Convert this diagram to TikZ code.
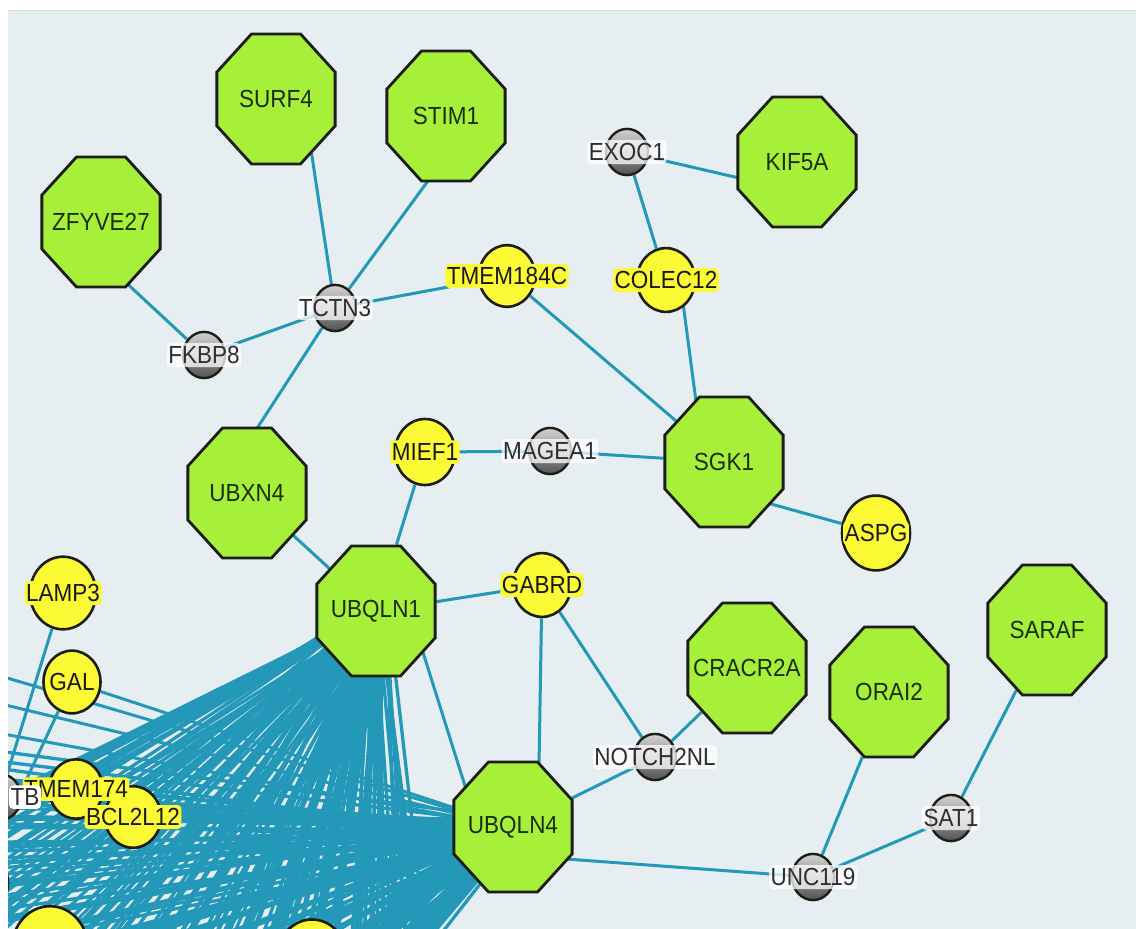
\documentclass[tikz,border=0pt]{standalone}
\usepackage{fontspec}
\setmainfont{Liberation Sans}
\usetikzlibrary{shapes.geometric,calc}
\pgfdeclarelayer{bg}
\pgfdeclarelayer{edges}
\pgfsetlayers{bg,edges,main}
\definecolor{canvas}{RGB}{231,238,241}
\definecolor{linkcol}{RGB}{36,152,184}
\definecolor{limefill}{RGB}{166,240,58}
\definecolor{limetext}{RGB}{28,46,10}
\definecolor{yelfill}{RGB}{252,250,52}
\definecolor{rimcol}{RGB}{28,30,22}
\tikzset{
  link/.style     = {draw=linkcol, line width=3pt},
  hub/.style      = {regular polygon, regular polygon sides=8, minimum size=128pt, inner sep=0pt,
                     fill=limefill, draw=rimcol, line width=2.8pt},
  gene/.style     = {circle, minimum size=#1, inner sep=0pt, fill=yelfill, draw=rimcol, line width=2.6pt},
  gene/.default   = 58pt,
  relay/.style    = {circle, minimum size=42pt, inner sep=0pt, top color=gray!35,
                     bottom color=gray!65!black, draw=rimcol, line width=2.4pt},
  nametag/.style  = {font=\fontsize{22.5}{26}\selectfont, inner xsep=1.5pt, inner ysep=3pt},
  hubtag/.style   = {nametag, text=limetext},
  genetag/.style  = {nametag, fill=yelfill, rounded corners=4pt, text=black!90},
  relaytag/.style = {nametag, fill=white, fill opacity=0.75, text opacity=1, rounded corners=4pt, text=black!82}
}

\begin{document}
\begin{tikzpicture}[x=1pt, y=-0.90909pt, yscale=1.1, every node/.append style={transform shape}]
  \useasboundingbox (0,0) rectangle (1136,929);
  \begin{pgfonlayer}{bg}
    \fill[white] (0,0) rectangle (1136,929);
    \fill[canvas] (8,10) rectangle (1136,929);
    \draw[canvas!94!black, line width=0.8pt] (8,10.5) -- (1136,10.5);
  \end{pgfonlayer}

  \begin{scope}
    \clip (8,10) rectangle (1136,929);
    %  --  green octagons
    \foreach \n/\x/\y in {ZFYVE27/101/222, SURF4/276/99, STIM1/446/116, KIF5A/797/162,
        UBXN4/247/493, UBQLN1/376/611, UBQLN4/513/827, SGK1/724/462,
        CRACR2A/747/668, ORAI2/889/692, SARAF/1047/630}{
      \node[hub] (\n) at (\x,\y) {};
    }
    %  --  yellow circles (Ya, Yb, Yc only peek in at the border)
    \foreach \n/\x/\y/\d in {TMEM184C/507/276/56pt, COLEC12/666/280/58pt, MIEF1/425/452/60pt,
        GABRD/542/585/58pt, ASPG/876/533/68pt, LAMP3/63/593/66pt, GAL/72/682/57pt,
        BCL2L12/133/817/56pt, TMEM174/76/789/54pt, Ya/50/948/76pt, Yb/312/958/70pt, Yc/-22/883/60pt}{
      \node[gene=\d] (\n) at (\x,\y) {};
    }
    %  --  grey connector genes
    \foreach \n/\x/\y in {EXOC1/627/152, TCTN3/335/308, FKBP8/204/355, MAGEA1/550/451,
        NOTCH2NL/655/757, UNC119/813/877, SAT1/951/818, TB/0/797}{
      \node[relay] (\n) at (\x,\y) {};
    }

    %  --  labels go on top of every shape
    \foreach \n in {ZFYVE27, SURF4, STIM1, KIF5A, UBXN4, UBQLN1, UBQLN4, SGK1, CRACR2A, ORAI2, SARAF}
      \node[hubtag] (t\n) at (\n) {\n};
    \foreach \n in {TMEM184C, COLEC12, MIEF1, GABRD, ASPG, LAMP3, GAL, BCL2L12, TMEM174}
      \node[genetag] (t\n) at (\n) {\n};
    \foreach \n in {EXOC1, TCTN3, FKBP8, MAGEA1, NOTCH2NL, UNC119, SAT1}
      \node[relaytag] (t\n) at (\n) {\n};
    \node[relaytag, fill opacity=1, anchor=west] (tTB) at ($(TB)+(9,0)$) {TB};
  \end{scope}

  \begin{pgfonlayer}{edges}
    \begin{scope}
      \clip (8,10) rectangle (1136,929);
      %  --  plain links
      \foreach \a/\b in {FKBP8/TCTN3, TCTN3/TMEM184C, TMEM184C/SGK1, EXOC1/COLEC12,
          MIEF1/MAGEA1, MAGEA1/SGK1, MIEF1/UBQLN1, UBXN4/UBQLN1, UBQLN1/GABRD,
          GABRD/NOTCH2NL, NOTCH2NL/CRACR2A, NOTCH2NL/UBQLN4, UNC119/ORAI2, UNC119/SAT1,
          SAT1/SARAF, LAMP3/TB, GAL/Yc, GAL/UBQLN4, TMEM174/UBQLN1, BCL2L12/UBQLN1,
          TMEM174/UBQLN4, BCL2L12/UBQLN4, TB/UBQLN1, TB/UBQLN4, Ya/UBQLN1, Ya/UBQLN4,
          Yb/UBQLN1, Yb/UBQLN4}{
        \draw[link] (\a) -- (\b);
      }
      %  --  links that leave a node off its middle
      \draw[link] ($(ZFYVE27)+(-23,16)$) -- (FKBP8);
      \draw[link] ($(SURF4)+(29,11)$) -- (TCTN3);
      \draw[link] ($(STIM1)+(17,17)$) -- (TCTN3);
      \draw[link] (TCTN3) -- ($(UBXN4)+(-17,-23)$);
      \draw[link] (EXOC1) -- ($(KIF5A)+(-19,25)$);
      \draw[link] ($(COLEC12)+(14,0)$) -- ($(SGK1)+(-20,0)$);
      \draw[link] ($(SGK1)+(4,30)$) -- (ASPG);
      \draw[link] ($(UBQLN1)+(34,0)$) -- ($(UBQLN4)+(-35,0)$);
      \draw[link] (GABRD) -- ($(UBQLN4)+(25,0)$);
      \draw[link] ($(UBQLN4)+(0,28)$) -- (UNC119);

      %  --  genes beyond the left border
      \foreach \i/\y in {1/664, 2/694, 3/726}{
        \coordinate (w\i) at (-40,\y);
        \draw[link] (w\i) -- (UBQLN4);
      }
      %  --  the two big fans towards the crowded lower left
      \pgfmathsetseed{7}
      \foreach \k in {0,...,129}{
        \pgfmathsetmacro\ang{82+0.56*\k+0.6*rnd}
        \pgfmathsetmacro\dx{12*rand}
        \pgfmathsetmacro\dy{12*rand}
        \draw[link, line width=3.3pt] ($(UBQLN1)+(\dx,\dy)$) -- ++(\ang:800);
      }
      \foreach \k in {0,...,119}{
        \pgfmathsetmacro\ang{128+0.5*\k+0.5*rnd}
        \pgfmathsetmacro\dx{12*rand}
        \pgfmathsetmacro\dy{12*rand}
        \draw[link, line width=3.3pt] ($(UBQLN4)+(\dx,\dy)$) -- ++(\ang:800);
      }
    \end{scope}
  \end{pgfonlayer}
\end{tikzpicture}
\end{document}
